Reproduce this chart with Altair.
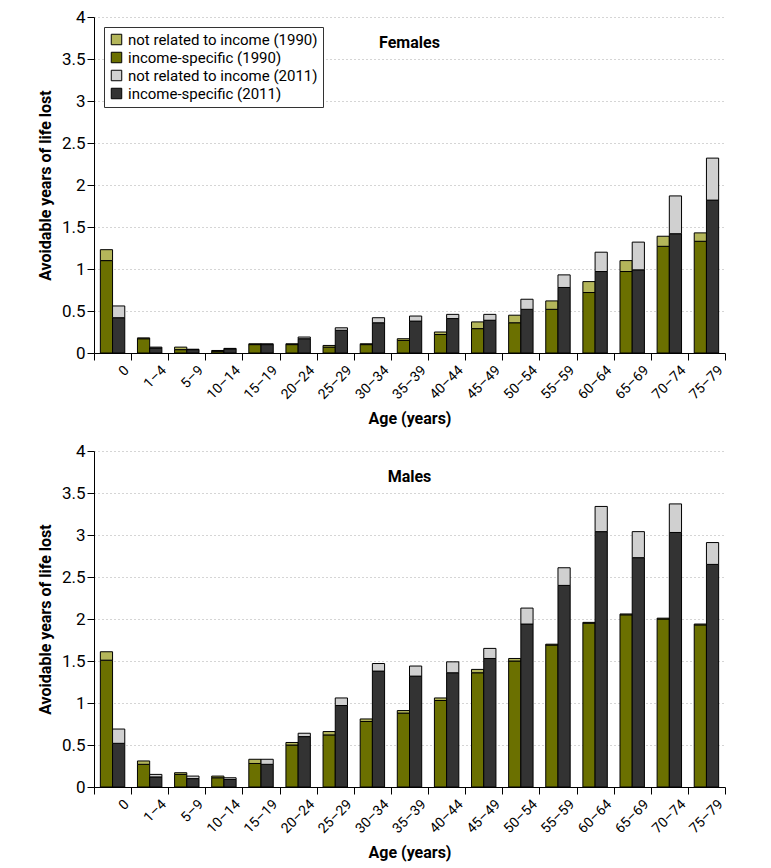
import altair as alt
import pandas as pd

ages = ["0", "1–4", "5–9", "10–14", "15–19", "20–24", "25–29", "30–34", "35–39",
        "40–44", "45–49", "50–54", "55–59", "60–64", "65–69", "70–74", "75–79"]

# Females
f_inc_1990 = [1.10, 0.17, 0.04, 0.02, 0.10, 0.10, 0.07, 0.10, 0.15, 0.22, 0.29, 0.36, 0.52, 0.72, 0.97, 1.27, 1.33]
f_tot_1990 = [1.23, 0.18, 0.07, 0.03, 0.11, 0.11, 0.09, 0.11, 0.17, 0.25, 0.37, 0.45, 0.62, 0.85, 1.10, 1.39, 1.43]
f_inc_2011 = [0.42, 0.06, 0.04, 0.05, 0.10, 0.17, 0.27, 0.36, 0.38, 0.41, 0.39, 0.52, 0.78, 0.97, 0.99, 1.42, 1.82]
f_tot_2011 = [0.56, 0.07, 0.045, 0.055, 0.11, 0.19, 0.30, 0.42, 0.44, 0.46, 0.46, 0.64, 0.93, 1.20, 1.32, 1.87, 2.32]

# Males
m_inc_1990 = [1.51, 0.27, 0.15, 0.11, 0.28, 0.50, 0.62, 0.78, 0.88, 1.03, 1.36, 1.50, 1.69, 1.95, 2.05, 2.00, 1.93]
m_tot_1990 = [1.61, 0.31, 0.17, 0.13, 0.33, 0.53, 0.66, 0.81, 0.91, 1.06, 1.40, 1.53, 1.70, 1.96, 2.06, 2.01, 1.94]
m_inc_2011 = [0.52, 0.12, 0.10, 0.09, 0.27, 0.60, 0.97, 1.38, 1.32, 1.36, 1.53, 1.94, 2.40, 3.04, 2.73, 3.03, 2.65]
m_tot_2011 = [0.69, 0.15, 0.13, 0.11, 0.33, 0.64, 1.06, 1.47, 1.44, 1.49, 1.65, 2.13, 2.61, 3.34, 3.04, 3.37, 2.91]

series = ["not related to income (1990)", "income-specific (1990)",
          "not related to income (2011)", "income-specific (2011)"]
colors = ["#b4b65a", "#6b7000", "#d0d0d0", "#333333"]
y_ticks = [0, 0.5, 1, 1.5, 2, 2.5, 3, 3.5, 4]
y_labels = ["0", "0.5", "1", "1.5", "2", "2.5", "3", "3.5", "4"]

FONT = "Roboto"


def build_df(inc90, tot90, inc11, tot11):
    rows = []
    for i, a in enumerate(ages):
        rows.append(dict(age=a, year="1990", series=series[1], value=inc90[i], ord=0))
        rows.append(dict(age=a, year="1990", series=series[0], value=round(tot90[i] - inc90[i], 3), ord=1))
        rows.append(dict(age=a, year="2011", series=series[3], value=inc11[i], ord=0))
        rows.append(dict(age=a, year="2011", series=series[2], value=round(tot11[i] - inc11[i], 3), ord=1))
    return pd.DataFrame(rows)


label_expr = "{" + ",".join(f"'{t}':'{l}'" for t, l in zip(y_ticks, y_labels)) + "}[datum.value]"


def panel(df, title):
    return alt.Chart(df, title=alt.TitleParams(
        title, dy=47, fontSize=16, font=FONT, fontWeight="bold", anchor="middle", color="black"
    )).mark_bar(stroke="black", strokeWidth=1).encode(
        x=alt.X("age:N", sort=ages, title="Age (years)",
                scale=alt.Scale(paddingInner=0, paddingOuter=0),
                axis=alt.Axis(labelAngle=-45, labelAlign="right", labelBaseline="top",
                              labelOffset=9,
                              tickBand="extent", tickSize=7, tickColor="black",
                              domainColor="black", labelFontSize=14, labelFont=FONT,
                              labelColor="black", labelPadding=3,
                              titleFont=FONT, titleFontSize=16, titleFontWeight="bold",
                              titleColor="black", titlePadding=9, grid=False)),
        xOffset=alt.XOffset("year:N", scale=alt.Scale(paddingOuter=0.52, paddingInner=0)),
        y=alt.Y("value:Q", stack="zero", title="Avoidable years of life lost",
                scale=alt.Scale(domain=[0, 4], nice=False),
                axis=alt.Axis(values=y_ticks, labelExpr=label_expr, tickSize=7,
                              tickColor="black", domainColor="black",
                              labelFontSize=17, labelFont=FONT, labelColor="black",
                              titleFont=FONT, titleFontSize=16, titleFontWeight="bold",
                              titleColor="black", titlePadding=8,
                              grid=True, gridDash=[1, 3], gridColor="#aaaaaa")),
        color=alt.Color("series:N", sort=series,
                        scale=alt.Scale(domain=series, range=colors),
                        legend=alt.Legend(title=None, orient="top-left", offset=10,
                                          strokeColor="#333333", fillColor="white",
                                          padding=5, symbolType="square", symbolSize=110,
                                          symbolStrokeColor="black", symbolStrokeWidth=1,
                                          labelFont=FONT, labelFontSize=15, labelColor="black",
                                          labelLimit=0, rowPadding=2, symbolOpacity=1)),
        order=alt.Order("ord:Q"),
    ).properties(width=631, height=336)


top = panel(build_df(f_inc_1990, f_tot_1990, f_inc_2011, f_tot_2011), "Females")
bottom = panel(build_df(m_inc_1990, m_tot_1990, m_inc_2011, m_tot_2011), "Males")

chart = alt.vconcat(top, bottom, spacing=15).resolve_scale(color="shared").properties(
    padding={"left": 29, "top": 0, "right": 5, "bottom": 5}
).configure_view(stroke=None)

chart.save("out.html", embed_options={"renderer": "svg", "actions": False})
